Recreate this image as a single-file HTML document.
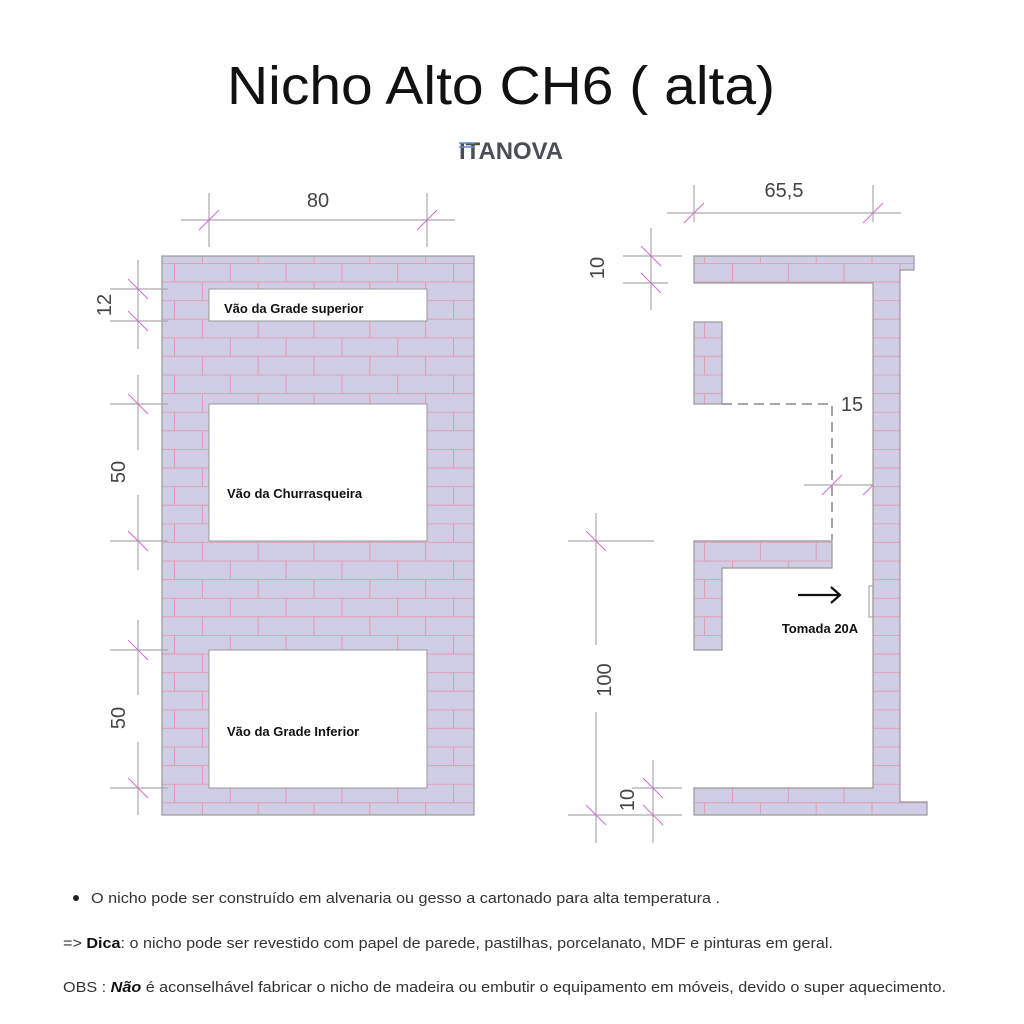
<!DOCTYPE html>
<html><head><meta charset="utf-8"><style>html,body{margin:0;padding:0;background:#fff}svg{display:block}</style></head>
<body>
<svg width="1024" height="1024" viewBox="0 0 1024 1024" xmlns="http://www.w3.org/2000/svg" font-family="Liberation Sans, sans-serif">
<defs>
<pattern id="br" patternUnits="userSpaceOnUse" x="174" y="263" width="111.6" height="37.2">
<rect width="111.6" height="37.2" fill="#d0cee7"/>
<path d="M0 0.4H111.6M0 19H111.6M0.5 0V18.6M56.3 0V18.6M28.4 18.6V37.2M84.2 18.6V37.2" stroke="#e79aae" stroke-width="1" fill="none"/>
</pattern>
</defs>
<rect width="1024" height="1024" fill="#fff"/>
<text x="501" y="104" font-size="54" text-anchor="middle" fill="#111" textLength="548" lengthAdjust="spacingAndGlyphs">Nicho Alto CH6 ( alta)</text>
<text x="511" y="159" font-size="24" font-weight="bold" text-anchor="middle" fill="#4a4f55" textLength="104" lengthAdjust="spacingAndGlyphs">ITANOVA</text>
<path d="M459 143h16M459 147h16" stroke="#5b8fd0" stroke-width="1.5"/>

<!-- left elevation -->
<rect x="162" y="256" width="312" height="559" fill="url(#br)" stroke="#999" stroke-width="1.2"/>
<rect x="209" y="289" width="218" height="32" fill="#fff" stroke="#999"/>
<rect x="209" y="404" width="218" height="137" fill="#fff" stroke="#999"/>
<rect x="209" y="650" width="218" height="138" fill="#fff" stroke="#999"/>
<g font-size="13" font-weight="bold" fill="#111">
<text x="224" y="313">Vão da Grade superior</text>
<text x="227" y="498">Vão da Churrasqueira</text>
<text x="227" y="736">Vão da Grade Inferior</text>
</g>

<g stroke="#aaa" stroke-width="1.2" fill="none">
<path d="M181 220H455M209 193V247M427 193V247"/>
<path d="M138 260V349M110 289H168M110 321H168"/>
<path d="M138 375V450M138 495V570M110 404H168M110 541H168"/>
<path d="M138 620V695M138 742V815M110 650H168M110 788H168"/>
<path d="M667 213H901M694 185V222M873 185V222"/>
<path d="M651 228V310M623 256H682M623 283H668"/>
<path d="M804 485H900"/>
<path d="M596 513V645M596 712V843M568 541H654M568 815H682"/>
<path d="M653 760V843M632 788H682"/>
<path d="M869 586H873V617H869Z"/>
</g>
<g stroke="#d46ad8" stroke-width="1" fill="none">
<path d="M199 230L219 210M417 230L437 210"/>
<path d="M128 279L148 299M128 311L148 331M128 394L148 414M128 531L148 551M128 640L148 660M128 778L148 798"/>
<path d="M684 223L704 203M863 223L883 203"/>
<path d="M641 246L661 266M641 273L661 293"/>
<path d="M822 495L842 475M863 495L883 475"/>
<path d="M586 531L606 551M586 805L606 825M643 778L663 798M643 805L663 825"/>
</g>
<g fill="#444" font-size="20">
<text x="318" y="207" text-anchor="middle">80</text>
<text x="784" y="197" text-anchor="middle">65,5</text>
<text x="852" y="411" text-anchor="middle">15</text>
<text transform="translate(111 305) rotate(-90)" text-anchor="middle">12</text>
<text transform="translate(125 472) rotate(-90)" text-anchor="middle">50</text>
<text transform="translate(125 718) rotate(-90)" text-anchor="middle">50</text>
<text transform="translate(604 268) rotate(-90)" text-anchor="middle">10</text>
<text transform="translate(611 680) rotate(-90)" text-anchor="middle">100</text>
<text transform="translate(634 800) rotate(-90)" text-anchor="middle">10</text>
</g>

<!-- right section -->
<g fill="url(#br)" stroke="#999" stroke-width="1.2">
<path d="M694 256H914V270H900V802H927V815H694V788H873V283H694Z"/>
<rect x="694" y="322" width="28" height="82"/>
<path d="M694 541H832V568H722V650H694Z"/>
</g>
<path d="M722 404H832V540" stroke="#888" stroke-width="1.5" stroke-dasharray="10 6" fill="none"/>
<path d="M798 595H840M831 587L840 595L831 603" stroke="#111" stroke-width="2.2" fill="none"/>
<text x="820" y="633" font-size="13" font-weight="bold" text-anchor="middle" fill="#111">Tomada 20A</text>

<!-- notes -->
<circle cx="76" cy="898" r="3" fill="#222"/>
<g font-size="15" fill="#333">
<text x="91" y="903" textLength="629" lengthAdjust="spacingAndGlyphs">O nicho pode ser construído em alvenaria ou gesso a cartonado para alta temperatura .</text>
<text x="63" y="948" textLength="770" lengthAdjust="spacingAndGlyphs">=&gt; <tspan font-weight="bold" fill="#111">Dica</tspan>:  o nicho pode ser revestido com papel de parede, pastilhas, porcelanato, MDF e pinturas em geral.</text>
<text x="63" y="992" textLength="883" lengthAdjust="spacingAndGlyphs">OBS : <tspan font-weight="bold" font-style="italic" fill="#111">Não</tspan> é aconselhável fabricar o nicho de madeira ou embutir o equipamento em móveis, devido o super aquecimento.</text>
</g>
</svg>
</body></html>
